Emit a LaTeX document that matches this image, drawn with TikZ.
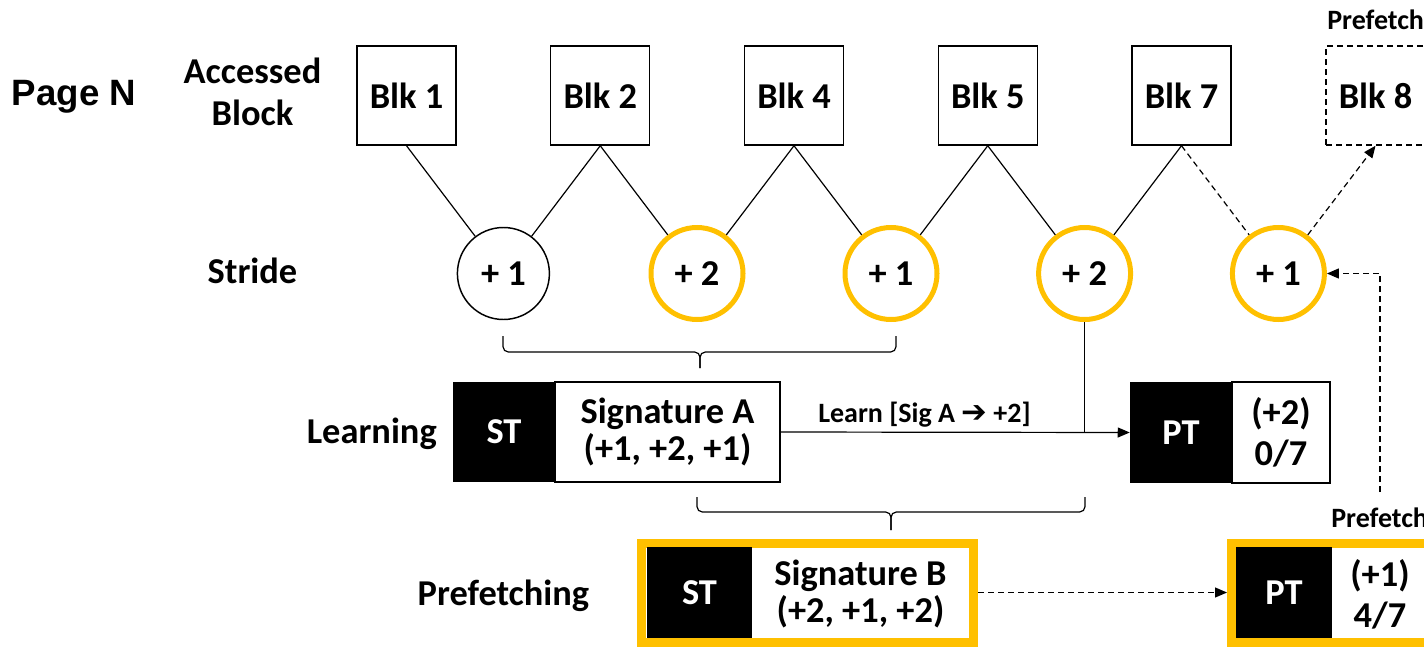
\documentclass[tikz,border=0pt]{standalone}
\usepackage{fontspec}
\setmainfont{Carlito}
\newfontfamily\arialfont{Liberation Sans}
\newfontfamily\symfont{DejaVu Sans}
\usetikzlibrary{arrows.meta,calc}
\definecolor{gold}{HTML}{FFC000}

\begin{document}
\begin{tikzpicture}[x=0.75pt,y=-0.75pt,
  every node/.style={inner sep=0pt, font=\bfseries\fontsize{27.3}{30}\selectfont},
  blk/.style={draw, line width=1.1pt, minimum width=74.25pt, minimum height=74.25pt},
  ghost/.style={blk, dashed, dash pattern=on 4.5pt off 3pt},
  stride/.style={circle, draw, line width=1.1pt, minimum size=69pt},
  hot/.style={draw=gold, line width=3.75pt},
  blackcell/.style={fill=black, text=white},
  whitecell/.style={draw, line width=1.1pt, fill=white, align=center},
  sigtext/.style={font=\bfseries\fontsize{27.3}{27.75}\selectfont},
  pttext/.style={font=\bfseries\fontsize{27.3}{30.75}\selectfont},
  frame/.style={draw=gold, line width=6.75pt},
  link/.style={line width=0.9pt},
  dashlink/.style={link, dash pattern=on 4.5pt off 3pt},
  tip/.style={-{Triangle[length=9pt,width=7.5pt]}},
  small/.style={font=\bfseries\fontsize{21}{24}\selectfont},
  bracket/.style={line width=0.9pt, rounded corners=4pt}
]
\useasboundingbox (0,0) rectangle (1424,646);
\clip (0,0) rectangle (1424,646);

% row labels
\node[anchor=base, font=\arialfont\bfseries\fontsize{27.5}{30}\selectfont] (page) at (74,105) {Page N};
\node[anchor=base] (acc1) at (252.5,83) {Accessed};
\node[anchor=base] (acc2) at (252.5,125) {Block};
\node[anchor=base] (stride) at (252.5,283) {Stride};
\node[anchor=base east] (learning) at (437,443) {Learning};
\node[anchor=base] (prefetching) at (503.5,605) {Prefetching};

% accessed blocks
\node[blk] (b1) at (406.5,95.5) {Blk 1};
\node[blk] (b2) at (600.25,95.5) {Blk 2};
\node[blk] (b3) at (794,95.5) {Blk 4};
\node[blk] (b4) at (987.75,95.5) {Blk 5};
\node[blk] (b5) at (1181.5,95.5) {Blk 7};
\node[ghost] (b6) at (1375.5,95.5) {Blk 8};
\node[small, anchor=base west] (pfTop) at (1327,29) {Prefetch};

% strides
\node[stride] (s1) at (503.4,273.5) {+ 1};
\node[stride, hot] (s2) at (697,273.5) {+ 2};
\node[stride, hot] (s3) at (891,273.5) {+ 1};
\node[stride, hot] (s4) at (1084.6,273.5) {+ 2};
\node[stride, hot] (s5) at (1278.4,273.5) {+ 1};

% block-to-stride links
\draw[link] (b1.south) -- (s1);
\draw[link] (s1) -- (b2.south);
\draw[link] (b2.south) -- (s2);
\draw[link] (s2) -- (b3.south);
\draw[link] (b3.south) -- (s3);
\draw[link] (s3) -- (b4.south);
\draw[link] (b4.south) -- (s4);
\draw[link] (s4) -- (b5.south);
\draw[dashlink] (b5.south) -- (s5);
\draw[dashlink, tip] (s5) -- (b6.south);

% bracket over the first three strides
\draw[bracket] (503,336) -- (503,352) -- (700,352) -- (700,368);
\draw[bracket] (896,336) -- (896,352) -- (700,352) -- (700,368);

% learning row
\node[blackcell, minimum width=76.5pt, minimum height=75pt] (stA) at (504,432) {ST};
\node[whitecell, sigtext, minimum width=168.75pt, minimum height=75pt] (sigA) at (667.5,432) {Signature A\\(+1, +2, +1)};
\node[blackcell, minimum width=76.5pt, minimum height=75.75pt] (ptA) at (1181,432.5) {PT};
\node[whitecell, pttext, minimum width=73.5pt, minimum height=75.75pt] (predA) at (1281,432.5) {(+2)\\0/7};
\draw[link, tip] (sigA.east) -- (ptA.west);
\draw[link] (s4.south) -- (s4.south |- sigA.east);
\node[small, anchor=base] (learnlbl) at (924.5,422) {Learn [Sig A {\symfont\mdseries\fontsize{23}{24}\selectfont ➔} +2]};

% bracket over the last three strides
\draw[bracket] (697,497) -- (697,512) -- (891,512) -- (891,530);
\draw[bracket] (1085,497) -- (1085,512) -- (891,512) -- (891,530);

% prefetching row
\node[frame, minimum width=249pt, minimum height=74.25pt] (fB) at (807.5,592.5) {};
\node[blackcell, minimum width=78.75pt, minimum height=68.25pt] (stB) at (699.5,592.5) {ST};
\node[sigtext, align=center] (sigB) at (860.5,594) {Signature B\\(+2, +1, +2)};
\node[frame, minimum width=152.25pt, minimum height=74.25pt] (fPT) at (1333,592.5) {};
\node[blackcell, minimum width=72pt, minimum height=68.25pt] (ptB) at (1284,592.5) {PT};
\node[pttext, align=center] (predB) at (1380,594) {(+1)\\4/7};
\draw[dashlink, tip] (fB.east) -- (fPT.west);

% prefetch feedback
\node[small, anchor=base west] (pfLow) at (1331,527) {Prefetch};
\coordinate (pfStart) at (1380,492);
\draw[dashlink, tip] (pfStart) |- (s5.east);
\end{tikzpicture}
\end{document}
